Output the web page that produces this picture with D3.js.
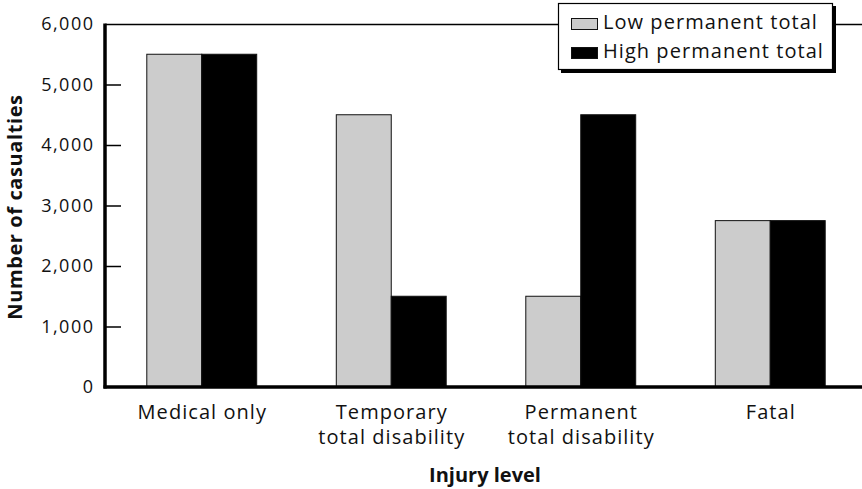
<!DOCTYPE html>
<html>
<head>
<meta charset="utf-8">
<script src="https://cdn.jsdelivr.net/npm/d3@7"></script>
<style>
  html, body { margin: 0; padding: 0; background: #fff; }
  svg { display: block; font-family: "Open Sans", "Noto Sans", sans-serif; }
</style>
</head>
<body>
<svg id="chart" width="862" height="489"></svg>
<script>
// Injury levels and casualty counts for the two permanent-total scenarios
const categories = [
  ["Medical only"],
  ["Temporary", "total disability"],
  ["Permanent", "total disability"],
  ["Fatal"]
];
const seriesNames = ["Low permanent total", "High permanent total"];
const lowValues = [5500, 4500, 1500, 2750];
const highValues = [5500, 1500, 4500, 2750];
const yTicks = [0, 1000, 2000, 3000, 4000, 5000, 6000];
const colors = ["#cccccc", "#000000"];

(function () {
const svg = d3.select("#chart");
const W = 862;
const plotLeft = 105, plotTop = 24, plotBottom = 387;
const labelSpacing = 1.05;

const catKeys = categories.map(c => c.join(" "));
const x0 = d3.scaleBand().domain(catKeys).range([107, 865]).paddingInner(0.42).paddingOuter(0.21);
const x1 = d3.scaleBand().domain(seriesNames).range([0, x0.bandwidth()]);
const y = d3.scaleLinear().domain([0, 6000]).range([plotBottom, plotTop]);

const rows = catKeys.map((k, i) => ({ key: k, values: [lowValues[i], highValues[i]] }));

// Bars
const groups = svg.append("g").selectAll("g").data(rows).join("g")
  .attr("transform", d => `translate(${x0(d.key)},0)`);
groups.selectAll("rect")
  .data(d => d.values.map((v, j) => ({ name: seriesNames[j], v, j })))
  .join("rect")
  .attr("x", d => x1(d.name))
  .attr("y", d => y(d.v))
  .attr("width", x1.bandwidth())
  .attr("height", d => y(0) - y(d.v))
  .attr("fill", d => colors[d.j])
  .attr("stroke", "#111")
  .attr("stroke-width", 1);

// Top frame line
svg.append("line")
  .attr("x1", plotLeft).attr("x2", W).attr("y1", plotTop + 0.5).attr("y2", plotTop + 0.5)
  .attr("stroke", "#000").attr("stroke-width", 1.5);

// Y axis with inward ticks
const yAxis = d3.axisLeft(y).tickValues(yTicks).tickFormat(d3.format(",")).tickSize(0).tickPadding(10.5);
const yg = svg.append("g").attr("transform", `translate(${plotLeft},0)`).call(yAxis);
yg.select(".domain").remove();
yg.selectAll(".tick text")
  .attr("font-size", 18).attr("letter-spacing", 1.5).attr("fill", "#111")
  .attr("font-family", "'Open Sans', sans-serif");
yg.selectAll(".tick").filter(d => d > 0 && d < 6000).append("line")
  .attr("x1", 0).attr("x2", 16).attr("stroke", "#000").attr("stroke-width", 1.5);

svg.append("line").attr("x1", plotLeft).attr("x2", plotLeft).attr("y1", plotTop - 0.5).attr("y2", plotBottom + 1.5)
  .attr("stroke", "#000").attr("stroke-width", 3.5);
svg.append("line").attr("x1", plotLeft - 1.5).attr("x2", W).attr("y1", plotBottom).attr("y2", plotBottom)
  .attr("stroke", "#000").attr("stroke-width", 3.5);

// Category labels
const xl = svg.append("g");
rows.forEach((r, i) => {
  const cx = x0(r.key) + x0.bandwidth() / 2 + labelSpacing / 2;
  const t = xl.append("text")
    .attr("x", cx)
    .attr("y", 419)
    .attr("text-anchor", "middle")
    .attr("font-size", 20).attr("letter-spacing", labelSpacing).attr("fill", "#111");
  categories[i].forEach((line, k) => {
    t.append("tspan").attr("x", cx).attr("dy", k === 0 ? 0 : 25).text(line);
  });
});

// Axis titles
svg.append("text").attr("x", 485).attr("y", 482).attr("text-anchor", "middle")
  .attr("font-size", 20).attr("font-weight", "bold").attr("fill", "#111").text("Injury level");
svg.append("text").attr("transform", "translate(22,207) rotate(-90)").attr("text-anchor", "middle")
  .attr("font-size", 20).attr("letter-spacing", 0.6).attr("font-weight", "bold").attr("fill", "#111")
  .text("Number of casualties");

// Legend with drop shadow
const lg = svg.append("g").attr("transform", "translate(558,3)");
lg.append("rect").attr("x", 3).attr("y", 3).attr("width", 275).attr("height", 67).attr("fill", "#000");
lg.append("rect").attr("x", 0.5).attr("y", 0.5).attr("width", 274).attr("height", 66)
  .attr("fill", "#fff").attr("stroke", "#000").attr("stroke-width", 1.2);
seriesNames.forEach((n, i) => {
  lg.append("rect").attr("x", 13.5).attr("y", 15.5 + i * 29).attr("width", 26).attr("height", 11)
    .attr("fill", colors[i]).attr("stroke", "#111").attr("stroke-width", 1);
  lg.append("text").attr("x", 45).attr("y", 26 + i * 29)
    .attr("font-size", 20).attr("letter-spacing", labelSpacing).attr("fill", "#111").text(n);
});
})();
</script>
</body>
</html>
